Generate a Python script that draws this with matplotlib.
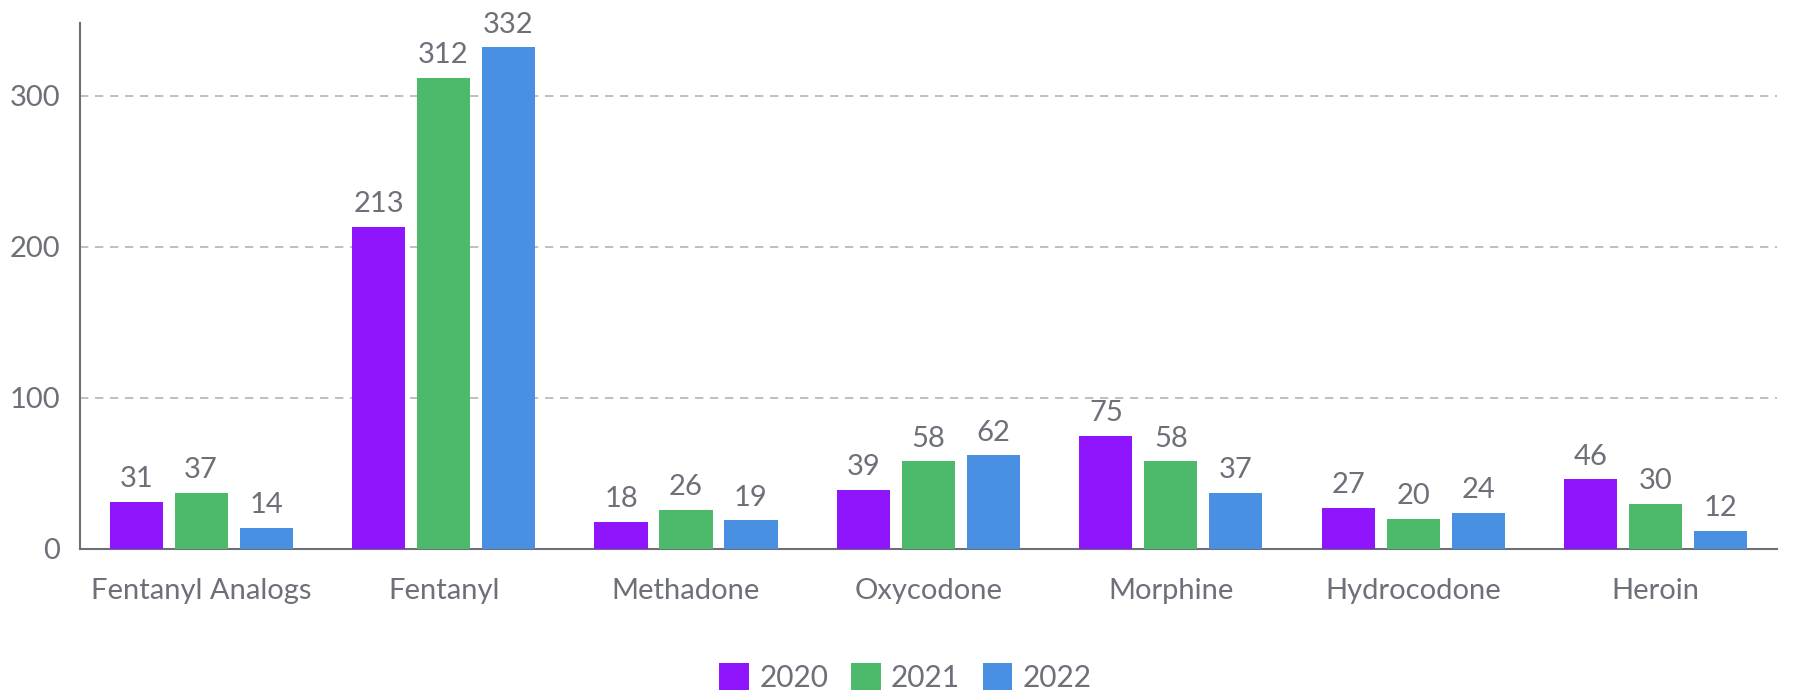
import matplotlib
matplotlib.use("Agg")
import matplotlib.pyplot as plt
import numpy as np

# Data

categories = ["Fentanyl Analogs", "Fentanyl", "Methadone", "Oxycodone",
              "Morphine", "Hydrocodone", "Heroin"]
years = ["2020", "2021", "2022"]
vals_2020 = [31, 213, 18, 39, 75, 27, 46]
vals_2021 = [37, 312, 26, 58, 58, 20, 30]
vals_2022 = [14, 332, 19, 62, 37, 24, 12]

colors = ["#8f15fd", "#4cba6a", "#4a90e2"]
text_color = "#6e7079"

plt.rcParams["font.family"] = ["Lato", "DejaVu Sans"]

fig = plt.figure(figsize = (18, 6.91), dpi = 100)
ax = fig.add_axes([0.0444, 0.2055, 0.9428, 0.761])

x = np.arange(len(categories))
width = 0.219
offset = 0.268

for i, (vals, col, yr) in enumerate(zip([vals_2020, vals_2021, vals_2022], colors, years)):
    bars = ax.bar(x + (i - 1)*offset, vals, width = width, color = col, label = yr, zorder = 3)
    for b, v in zip(bars, vals):
        ax.annotate(str(v), (b.get_x() + b.get_width()/2, v), xytext = (0, 7),
                    textcoords = "offset points", ha = "center", va = "bottom",
                    fontsize = 21, color = text_color)

ax.set_xlim(-0.5, len(categories) - 0.5)
ax.set_ylim(0, 348)
ax.set_yticks([0, 100, 200, 300])
ax.set_xticks(x)
ax.set_xticklabels(categories)

ax.yaxis.grid(True, linestyle = (0, (5, 4)), color = "#b4b4b4", linewidth = 1.2, zorder = 0)
for s in ["top", "right"]:
    ax.spines[s].set_visible(False)
for s in ["left", "bottom"]:
    ax.spines[s].set_color(text_color)
    ax.spines[s].set_linewidth(1.5)

ax.tick_params(axis = "both", length = 0, labelsize = 21, labelcolor = text_color)
ax.tick_params(axis = "x", pad = 21)
ax.tick_params(axis = "y", pad = 14)

leg = fig.legend(loc = "lower center", bbox_to_anchor = (0.503, -0.04), ncol = 3, frameon = False,
                 fontsize = 21.5, handlelength = 1.0, handleheight = 1.0, handletextpad = 0.35,
                 columnspacing = 0.75)
for t in leg.get_texts():
    t.set_color(text_color)

fig.savefig("out.png", dpi = 100)
